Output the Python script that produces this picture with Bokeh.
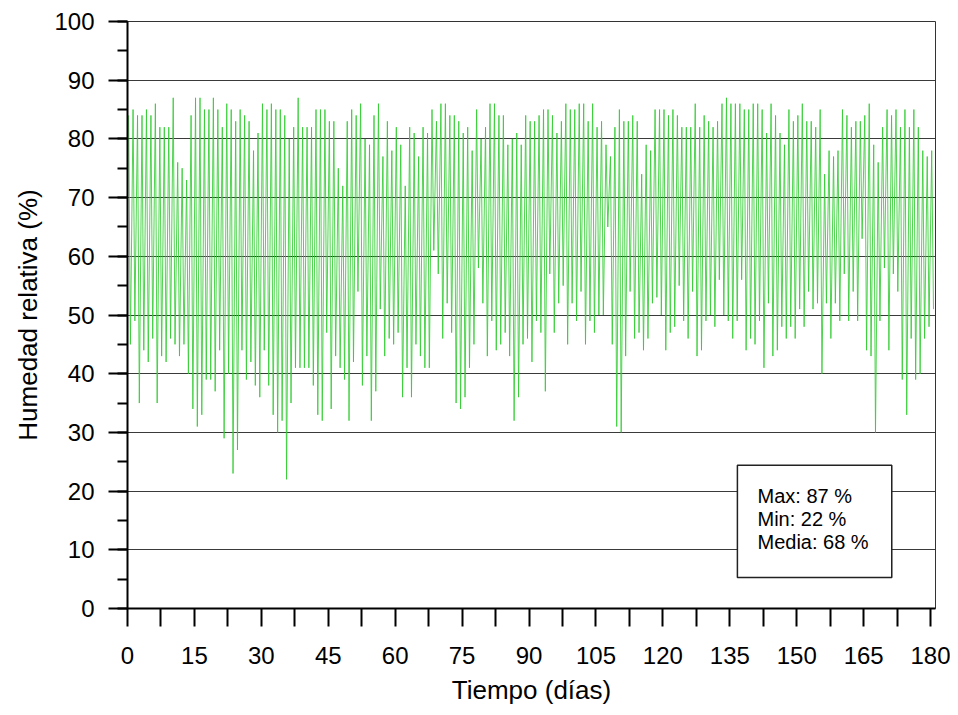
from bokeh.plotting import figure
from bokeh.models import (Range1d, SingleIntervalTicker, FixedTicker, BoxAnnotation,
                          Label, ColumnDataSource)
from bokeh.embed import file_html
from bokeh.resources import INLINE

# ---- data: daily maximum and minimum relative humidity (%), days 0..180 ----
day_max = [84, 85, 84, 84, 85, 84, 86, 82, 82, 82, 87, 76, 75, 73, 84, 87, 87, 85, 85, 87,
           85, 82, 86, 85, 83, 85, 84, 83, 78, 81, 86, 85, 86, 85, 85, 84, 80, 82, 87, 82,
           82, 82, 85, 85, 85, 83, 83, 75, 72, 83, 85, 84, 86, 80, 79, 84, 86, 77, 83, 78,
           82, 79, 72, 82, 81, 77, 82, 81, 85, 83, 86, 86, 84, 84, 83, 81, 82, 78, 85, 80,
           82, 86, 86, 84, 84, 79, 80, 81, 79, 84, 83, 83, 84, 85, 85, 84, 81, 83, 86, 85,
           85, 86, 86, 83, 86, 82, 83, 79, 77, 82, 85, 83, 83, 84, 83, 74, 79, 78, 85, 85,
           85, 84, 85, 84, 82, 82, 82, 86, 82, 84, 83, 82, 83, 86, 87, 86, 86, 86, 85, 85,
           86, 86, 85, 81, 86, 84, 81, 79, 85, 83, 84, 86, 83, 83, 82, 85, 74, 78, 77, 78,
           85, 84, 82, 83, 83, 84, 86, 79, 76, 82, 85, 84, 85, 82, 85, 82, 85, 82, 78, 77,
           78]
day_min = [45, 49, 35, 44, 42, 46, 35, 43, 42, 46, 45, 43, 45, 40, 34, 31, 33, 39, 39, 37,
           44, 29, 40, 23, 27, 44, 39, 42, 38, 36, 44, 38, 33, 30, 32, 22, 35, 41, 41, 41,
           41, 38, 33, 32, 47, 34, 43, 41, 39, 32, 42, 54, 38, 43, 32, 37, 51, 43, 46, 45,
           47, 36, 41, 36, 45, 43, 41, 41, 61, 57, 46, 52, 47, 35, 34, 36, 41, 45, 58, 52,
           43, 49, 44, 45, 47, 43, 32, 36, 45, 46, 42, 49, 47, 37, 57, 47, 52, 55, 45, 52,
           49, 54, 45, 49, 47, 50, 50, 65, 45, 31, 30, 43, 54, 46, 47, 44, 46, 52, 53, 50,
           44, 47, 48, 55, 49, 46, 54, 43, 44, 49, 50, 48, 56, 50, 49, 46, 49, 56, 44, 46,
           45, 49, 41, 52, 43, 44, 48, 46, 48, 46, 51, 48, 54, 51, 52, 40, 52, 46, 52, 49,
           57, 49, 54, 49, 63, 44, 43, 30, 49, 58, 44, 57, 54, 39, 33, 46, 39, 40, 46, 48,
           51]
x_tick_values = [i * 7.5 for i in range(25)]
x_tick_labels = [str(int(v)) if v % 15 == 0 else "" for v in x_tick_values]
stat_names = ["Max", "Min", "Media"]
stat_values = [87, 22, 68]

# build the series: maximum in the early morning, minimum in the afternoon
xs, ys = [], []
for d, (hi, lo) in enumerate(zip(day_max, day_min)):
    xs += [d + 0.25, d + 0.65]
    ys += [hi, lo]
src = ColumnDataSource(data=dict(x=xs, y=ys))

FONT = "Liberation Sans"

p = figure(width=950, height=707, output_backend="svg", toolbar_location=None,
           x_range=Range1d(0, 181.1), y_range=Range1d(0, 100),
           frame_width=808, frame_height=587,
           min_border_left=127, min_border_right=15, min_border_top=21, min_border_bottom=99)
p.background_fill_color = "white"
p.border_fill_color = "white"
p.outline_line_color = "#333333"
p.outline_line_width = 1

p.line("x", "y", source=src, line_color="#32cd32", line_width=1, line_alpha=0.85)

# grid
p.xgrid.visible = False
p.ygrid.ticker = SingleIntervalTicker(interval=10)
p.ygrid.grid_line_color = "#3a3a3a"
p.ygrid.grid_line_width = 1

# y axis
ya = p.yaxis[0]
ya.ticker = SingleIntervalTicker(interval=10, num_minor_ticks=2)
ya.axis_label = "Humedad relativa (%)"
ya.major_tick_out = 19
ya.major_tick_in = 0
ya.minor_tick_out = 10
ya.minor_tick_in = 0
ya.major_tick_line_width = 2
ya.minor_tick_line_width = 2
ya.axis_line_width = 2
ya.major_label_standoff = 14
ya.axis_label_standoff = 8

# x axis
xa = p.xaxis[0]
xa.ticker = FixedTicker(ticks=x_tick_values)
xa.major_label_overrides = {v: lab for v, lab in zip(x_tick_values, x_tick_labels)}
xa.axis_label = "Tiempo (días)"
xa.major_tick_out = 18
xa.major_tick_in = 0
xa.minor_tick_out = 0
xa.minor_tick_in = 0
xa.major_tick_line_width = 2
xa.axis_line_width = 2
xa.major_label_standoff = 20
xa.axis_label_standoff = 8

for ax in (xa, ya):
    ax.axis_line_color = "black"
    ax.major_tick_line_color = "black"
    ax.minor_tick_line_color = "black"
    ax.major_label_text_font = FONT
    ax.major_label_text_font_size = "24px"
    ax.major_label_text_color = "black"
    ax.axis_label_text_font = FONT
    ax.axis_label_text_font_size = "26px"
    ax.axis_label_text_font_style = "normal"
    ax.axis_label_text_color = "black"

# statistics box
box = BoxAnnotation(left=136.7, right=171.3, bottom=5.3, top=24.4,
                    fill_color="white", fill_alpha=1.0,
                    line_color="#222222", line_alpha=1.0, line_width=1.5, level="annotation")
p.add_layout(box)
for i, (n, v) in enumerate(zip(stat_names, stat_values)):
    p.add_layout(Label(x=141.2, y=19.2 - 3.95 * i, text=f"{n}: {v} %",
                       text_font=FONT, text_font_size="20px", text_color="black",
                       text_baseline="alphabetic", text_align="left", level="annotation"))

open("out.html", "w").write(file_html(p, INLINE))
